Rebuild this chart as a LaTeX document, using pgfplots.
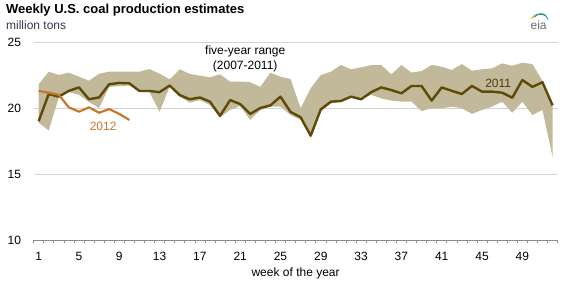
\documentclass[border=0pt]{standalone}
\usepackage{fontspec}
\setmainfont{Liberation Sans}
\usepackage{pgfplots}
\pgfplotsset{compat=1.18}
\usepgfplotslibrary{fillbetween}

\definecolor{band}{HTML}{C2B89A}
\definecolor{line11}{HTML}{5E4A08}
\definecolor{line12}{HTML}{C8772E}
\definecolor{gridgray}{HTML}{D4D4D4}
\definecolor{axgray}{HTML}{8C8C8C}

% week, five-year low, five-year high, 2011
\pgfplotstableread{
w lo hi y11
1 18.9 21.8 19.0
2 18.3 22.75 21.06
3 20.8 22.5 20.86
4 21.2 22.68 21.3
5 21.0 22.37 21.56
6 20.45 22.07 20.66
7 20.0 22.6 20.8
8 21.6 22.75 21.8
9 21.65 22.75 21.9
10 21.7 22.75 21.87
11 21.25 22.75 21.29
12 21.2 22.95 21.29
13 19.72 22.6 21.2
14 21.6 22.17 21.7
15 20.86 22.93 20.98
16 20.4 22.58 20.66
17 20.6 22.45 20.8
18 20.23 22.32 20.48
19 19.3 22.55 19.4
20 19.85 22.0 20.6
21 20.15 22.0 20.3
22 19.1 21.95 19.55
23 19.85 21.6 20.0
24 20.1 22.68 20.2
25 20.1 22.37 20.86
26 19.47 22.2 19.7
27 19.1 19.98 19.3
28 17.83 21.5 17.9
29 19.72 22.5 19.9
30 20.35 22.75 20.48
31 20.48 23.26 20.53
32 20.86 22.93 20.86
33 20.66 23.08 20.66
34 21.0 23.25 21.2
35 20.73 23.26 21.56
36 20.56 22.55 21.36
37 20.48 23.26 21.11
38 20.48 22.68 21.67
39 19.77 22.8 21.67
40 19.98 23.26 20.56
41 19.98 23.13 21.56
42 20.1 22.88 21.3
43 19.98 23.33 21.06
44 19.55 22.83 21.67
45 19.85 22.93 21.24
46 20.1 23.0 21.24
47 20.48 23.38 21.16
48 19.64 23.2 20.78
49 20.48 23.43 22.12
50 19.47 23.33 21.6
51 19.85 22.05 21.95
52 16.3 20.3 20.2
}\coal

\pgfplotstableread{
w y12
1 21.29
2 21.16
3 21.0
4 20.05
5 19.72
6 20.05
7 19.64
8 19.92
9 19.55
10 19.1
}\coaltwelve

\begin{document}
\begin{tikzpicture}[font=\fontsize{12}{14}\selectfont]
\begin{axis}[
    at={(0,0)}, anchor=south west,
    scale only axis,
    width=524pt, height=198pt,
    xmin=0.5, xmax=52.5,
    ymin=10, ymax=25,
    axis x line*=bottom,
    axis y line*=left,
    y axis line style={draw=none},
    x axis line style={axgray, line width=0.8pt, -},
    xtick={0.5,1.5,...,52.5},
    xticklabels={},
    tick align=outside,
    major tick length=3pt,
    x tick style={axgray, line width=0.6pt},
    extra x ticks={1,5,...,49},
    extra x tick style={major tick length=0pt},
    extra x tick labels={1,5,9,13,17,21,25,29,33,37,41,45,49},
    xticklabel style={anchor=center, yshift=-16.5pt},
    ytick={10,15,20,25},
    y tick style={draw=none},
    yticklabel style={anchor=east, xshift=-6pt},
    ymajorgrids,
    grid style={gridgray, line width=0.7pt},
    xlabel={week of the year},
    xlabel style={at={(axis description cs:0.5,0)}, anchor=center, yshift=-33.5pt},
    /pgf/number format/assume math mode=true,
    clip=false,
]
\addplot[name path=hi, draw=none] table[x=w, y=hi] {\coal};
\addplot[name path=lo, draw=none] table[x=w, y=lo] {\coal};
\addplot[band, draw=none] fill between[of=hi and lo];
\addplot[line11, line width=2.4pt, line join=round] table[x=w, y=y11] {\coal};
\addplot[line12, line width=2.2pt, line join=round] table[x=w, y=y12] {\coaltwelve};
\node[align=center, font=\fontsize{12}{15}\selectfont] at (axis cs:21.5,23.7) {five-year range\\(2007-2011)};
\node[text=line11!80!black, font=\fontsize{12}{14}\selectfont] at (axis cs:46.6,21.9) {2011};
\node[text=line12, font=\fontsize{12}{14}\selectfont] at (axis cs:7.4,18.64) {2012};
\end{axis}
\node[anchor=west, font=\bfseries\fontsize{13}{15}\selectfont] at (-31pt,230pt) {Weekly U.S. coal production estimates};
\node[anchor=west, text={rgb,255:red,60;green,50;blue,80}] at (-31pt,215pt) {million tons};
% eia logo
\node[text=gray!85!black, font=\fontsize{12}{12}\selectfont] at (505pt,215pt) {eia};
\draw[yellow!80!orange, line width=0.8pt] (497pt,221pt) arc[start angle=150, end angle=60, radius=10pt];
\draw[green!60!black!70, line width=0.8pt] (499pt,222pt) arc[start angle=150, end angle=50, radius=9pt];
\draw[cyan!70!blue, line width=0.8pt] (501pt,223pt) arc[start angle=140, end angle=20, radius=8pt];
\path (-33.6pt,-41pt) rectangle (535.4pt,240pt);
\end{tikzpicture}
\end{document}
